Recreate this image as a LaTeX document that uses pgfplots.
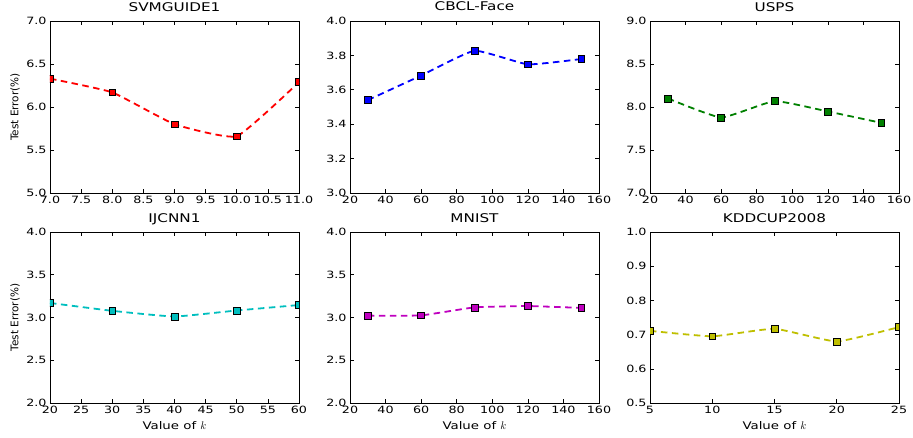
\documentclass[border=0pt]{standalone}
\usepackage{fontspec}
\setmainfont{DejaVu Sans}[FakeStretch=1.27]
\newfontfamily\ylabfont{DejaVu Sans}
\usepackage{pgfplots}
\pgfplotsset{compat=1.18}
\definecolor{mgreen}{rgb}{0,0.5,0}
\definecolor{mcyan}{rgb}{0,0.75,0.75}
\definecolor{mmag}{rgb}{0.75,0,0.75}
\definecolor{myel}{rgb}{0.75,0.75,0}
\pgfplotsset{
 myax/.style={scale only axis, width=249pt, height=172pt, anchor=south west,
   tick align=inside, major tick length=4pt, minor tick num=0,
   /pgf/number format/assume math mode=true,
   tick label style={font=\fontsize{10}{12}\selectfont},
   tick style={black, line width=0.6pt},
   title style={at={(axis description cs:0.5,1)}, anchor=base, yshift=4pt, font=\fontsize{12}{14}\selectfont},
   ylabel style={at={(axis description cs:-0.14,0.5)}, anchor=center, font=\ylabfont\fontsize{10.5}{12}\selectfont},
   xlabel style={at={(axis description cs:0.5,0)}, anchor=base, yshift=-26pt, font=\fontsize{10.5}{12}\selectfont},
   clip marker paths=true,
   axis line style={line width=0.7pt},
   yticklabel style={/pgf/number format/.cd, fixed, fixed zerofill, precision=1},
 },
 myline/.style={color=#1, dash pattern=on 6.5pt off 4.5pt, line width=1.8pt, smooth, tension=0.25,
   mark=square*, mark size=3.4pt, mark options={solid, fill=#1, draw=black, line width=0.6pt}},
}
\begin{document}
\begin{tikzpicture}
\path[use as bounding box] (0,0) rectangle (913pt,437pt);
% SVMGUIDE1
\begin{axis}[myax, at={(50pt,244pt)}, title={SVMGUIDE1}, ylabel={Test Error(\%)},
  xmin=7, xmax=11, ymin=5, ymax=7,
  xtick={7,7.5,8,8.5,9,9.5,10,10.5,11}, ytick={5,5.5,6,6.5,7},
  xticklabel style={/pgf/number format/.cd, fixed, fixed zerofill, precision=1}]
\addplot[myline=red] coordinates {(7,6.33) (8,6.17) (9,5.80) (10,5.66) (11,6.29)};
\end{axis}
% CBCL-Face
\begin{axis}[myax, at={(350pt,244pt)}, title={CBCL-Face},
  xmin=20, xmax=160, ymin=3, ymax=4,
  xtick={20,40,60,80,100,120,140,160}, ytick={3,3.2,3.4,3.6,3.8,4}]
\addplot[myline=blue] coordinates {(30,3.54) (60,3.683) (90,3.827) (120,3.748) (150,3.779)};
\end{axis}
% USPS
\begin{axis}[myax, at={(650pt,244pt)}, title={USPS},
  xmin=20, xmax=160, ymin=7, ymax=9,
  xtick={20,40,60,80,100,120,140,160}, ytick={7,7.5,8,8.5,9}]
\addplot[myline=mgreen] coordinates {(30,8.10) (60,7.878) (90,8.068) (120,7.948) (150,7.816)};
\end{axis}
% IJCNN1
\begin{axis}[myax, height=171pt, at={(50pt,34pt)}, title={IJCNN1}, ylabel={Test Error(\%)}, xlabel={Value of $k$},
  xmin=20, xmax=60, ymin=2, ymax=4,
  xtick={20,25,30,35,40,45,50,55,60}, ytick={2,2.5,3,3.5,4}]
\addplot[myline=mcyan] coordinates {(20,3.17) (30,3.078) (40,3.012) (50,3.082) (60,3.146)};
\end{axis}
% MNIST
\begin{axis}[myax, height=171pt, at={(350pt,34pt)}, title={MNIST}, xlabel={Value of $k$},
  xmin=20, xmax=160, ymin=2, ymax=4,
  xtick={20,40,60,80,100,120,140,160}, ytick={2,2.5,3,3.5,4}]
\addplot[myline=mmag] coordinates {(30,3.022) (60,3.025) (90,3.118) (120,3.134) (150,3.112)};
\end{axis}
% KDDCUP2008
\begin{axis}[myax, height=171pt, at={(650pt,34pt)}, title={KDDCUP2008}, xlabel={Value of $k$},
  xmin=5, xmax=25, ymin=0.5, ymax=1,
  xtick={5,10,15,20,25}, ytick={0.5,0.6,0.7,0.8,0.9,1.0}]
\addplot[myline=myel] coordinates {(5,0.711) (10,0.695) (15,0.717) (20,0.680) (25,0.722)};
\end{axis}
\end{tikzpicture}
\end{document}
